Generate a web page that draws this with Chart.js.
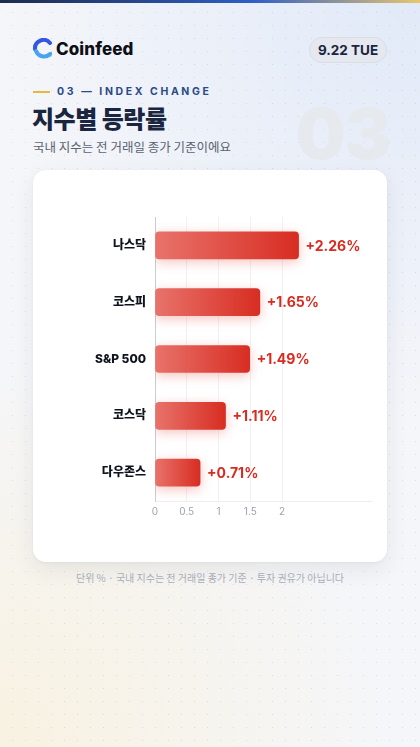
<!DOCTYPE html>
<html>
<head>
<meta charset="utf-8">
<script src="https://cdn.jsdelivr.net/npm/chart.js@4.4.1/dist/chart.umd.min.js"></script>
<style>
  html, body { margin: 0; padding: 0; }
  body {
    width: 420px; height: 747px; position: relative; overflow: hidden;
    font-family: Inter, "Noto Sans CJK KR", sans-serif;
    background:
      radial-gradient(circle at 0% 100%, rgba(250,240,215,0.7), rgba(250,240,215,0) 45%),
      radial-gradient(circle at 100% 0%, rgba(220,230,248,0.8), rgba(220,230,248,0) 50%),
      #f5f6f9;
  }
  .dots {
    position: absolute; inset: 0;
    background-image: radial-gradient(rgba(150,160,180,0.3) 0.7px, transparent 0.9px);
    background-size: 13px 13px; background-position: 6px 6px;
  }
  .topbar {
    position: absolute; left: 0; top: 0; width: 420px; height: 3px;
    background: linear-gradient(90deg, #1d2b4c 0%, #2f5fc4 60%, #e9c66e 100%);
  }
  .logo { position: absolute; left: 33px; top: 38px; display: flex; align-items: center; }
  .logo span { font-family: Inter, sans-serif; font-weight: 800; font-size: 17px; color: #0d0f14; margin-left: 3px; letter-spacing: 0.1px; }
  .pill {
    position: absolute; left: 309px; top: 37px; width: 76px; height: 24px;
    border-radius: 13px; background: #e5e8ef; border: 1px solid #d9dde6;
    font-weight: 700; font-size: 13.5px; color: #1a2540; text-align: center; line-height: 24px;
  }
  .big03 {
    position: absolute; left: 296px; top: 91px; font-family: Inter, sans-serif;
    font-weight: 900; font-size: 70px; color: #e6e9ee; letter-spacing: -1px;
  }
  .sect { position: absolute; left: 33px; top: 85px; display: flex; align-items: center; }
  .sect i { display: block; width: 17px; height: 2px; background: #e8b73c; margin-right: 7px; }
  .sect span { font-weight: 700; font-size: 10.5px; color: #2b4a86; letter-spacing: 2.6px; }
  .title {
    position: absolute; left: 32px; top: 100px; font-family: "Noto Sans CJK KR", sans-serif;
    font-weight: 900; font-size: 24px; color: #1a2540; letter-spacing: -0.5px;
  }
  .sub {
    position: absolute; left: 33px; top: 137px; font-family: "Noto Sans CJK KR", sans-serif;
    font-size: 12.5px; color: #5b6270;
  }
  .card {
    position: absolute; left: 33px; top: 170px; width: 354px; height: 392px;
    background: #fff; border-radius: 13px;
    box-shadow: 0 8px 22px rgba(30,40,70,0.08), 0 1px 3px rgba(30,40,70,0.05);
  }
  .card canvas { position: absolute; left: 0; top: 0; }
  .foot {
    position: absolute; left: 0; width: 420px; top: 570px; text-align: center;
    font-family: "Noto Sans CJK KR", sans-serif; font-size: 10px; color: #a7adb9;
  }
</style>
</head>
<body>
<div class="dots"></div>
<div class="topbar"></div>

<div class="logo">
  <svg width="20" height="22" viewBox="0 0 20 22">
    <path d="M17 5 A8.5 8.5 0 0 0 2 11" fill="none" stroke="#3457e0" stroke-width="4" stroke-linecap="round"/>
    <path d="M3 13 A8.5 8.5 0 0 0 17 16" fill="none" stroke="#4aa3f0" stroke-width="4" stroke-linecap="round"/>
    <path d="M14 16 L19 14 L18 19 Z" fill="#4aa3f0"/>
  </svg>
  <span>Coinfeed</span>
</div>
<div class="pill">9.22 TUE</div>

<div class="big03">03</div>
<div class="sect"><i></i><span>03 — INDEX CHANGE</span></div>
<div class="title">지수별 등락률</div>
<div class="sub">국내 지수는 전 거래일 종가 기준이에요</div>

<div class="card"><canvas id="chart" width="354" height="392"></canvas></div>
<div class="foot">단위 % · 국내 지수는 전 거래일 종가 기준 · 투자 권유가 아닙니다</div>

<script>
// data
const indexNames = ['나스닥', '코스피', 'S&P 500', '코스닥', '다우존스'];
const changePct = [2.26, 1.65, 1.49, 1.11, 0.71];
const tickValues = [0, 0.5, 1, 1.5, 2];

function barFill(ctx) {
  const chart = ctx.chart;
  const x = chart.scales.x;
  if (!chart.chartArea || !x) return '#dc3a2e';
  const v = ctx.raw || 0;
  const x0 = x.getPixelForValue(0);
  const x1 = x.getPixelForValue(v);
  const g = chart.ctx.createLinearGradient(x0, 0, x1, 0);
  g.addColorStop(0, '#e8736b');
  g.addColorStop(1, '#d82d22');
  return g;
}

const barGlow = {
  id: 'barGlow',
  beforeDatasetsDraw(chart) {
    const c = chart.ctx;
    c.save();
    c.shadowColor = 'rgba(225,60,45,0.3)';
    c.shadowBlur = 12;
    c.shadowOffsetY = 3;
  },
  afterDatasetsDraw(chart) {
    chart.ctx.restore();
    // value labels
    const c = chart.ctx;
    const meta = chart.getDatasetMeta(0);
    c.save();
    c.font = '700 14px Inter, sans-serif';
    c.fillStyle = '#d92b20';
    c.textBaseline = 'middle';
    meta.data.forEach((bar, i) => {
      c.fillText('+' + changePct[i].toFixed(2) + '%', bar.x + 7, bar.y + 1);
    });
    c.restore();
  }
};

new Chart(document.getElementById('chart'), {
  type: 'bar',
  data: {
    labels: indexNames,
    datasets: [{
      data: changePct,
      backgroundColor: barFill,
      borderRadius: 4,
      borderSkipped: false,
      barThickness: 27
    }]
  },
  options: {
    indexAxis: 'y',
    responsive: false,
    animation: false,
    layout: { padding: { top: 47, right: 16, bottom: 39, left: 0 } },
    plugins: { legend: { display: false }, tooltip: { enabled: false } },
    scales: {
      x: {
        min: 0,
        max: 3.4,
        afterBuildTicks(scale) { scale.ticks = tickValues.map(v => ({ value: v })); },
        ticks: {
          color: '#9ca4b2',
          font: { family: 'Inter, sans-serif', size: 10 },
          padding: 5,
          maxRotation: 0,
          callback: v => String(v)
        },
        grid: { color: '#f0f1f4', drawTicks: false },
        border: { color: '#eceef2' }
      },
      y: {
        afterFit(scale) { scale.width = 122; },
        ticks: {
          color: '#0f131c',
          font: { family: 'Inter, "Noto Sans CJK KR", sans-serif', size: 12, weight: '800' },
          padding: 9
        },
        grid: { display: false, drawTicks: false },
        border: { color: '#c9cdd5' }
      }
    }
  },
  plugins: [barGlow]
});
</script>
</body>
</html>
